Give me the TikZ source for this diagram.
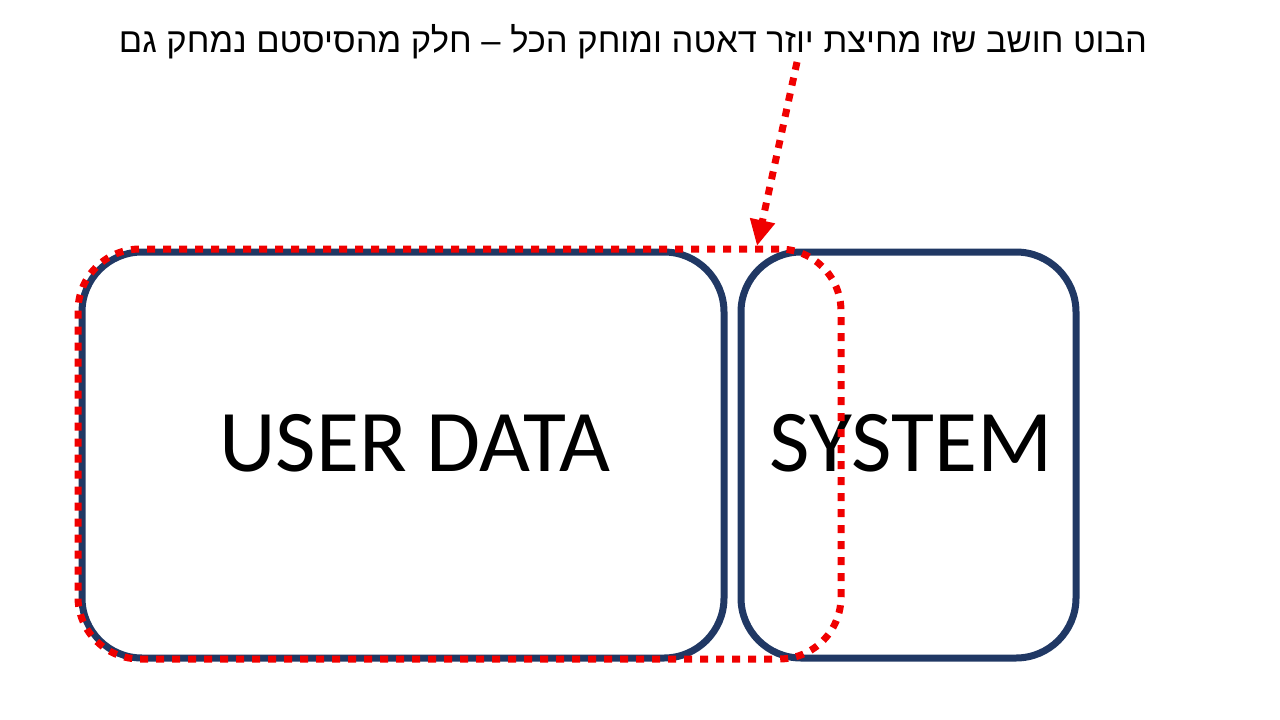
\documentclass[tikz,border=0pt]{standalone}
\usepackage{fontspec}
\usetikzlibrary{arrows.meta}
\TeXXeTstate=1
\newfontfamily\hebfont[Script=Hebrew]{Liberation Sans}
\newfontfamily\boxfont{Carlito}
\definecolor{navy}{HTML}{203864}
\definecolor{redline}{RGB}{240,0,0}
\tikzset{
  boxframe/.style={draw=navy, line width=7pt, rounded corners=60pt, inner sep=0pt},
  boxlabel/.style={font=\boxfont\fontsize{88}{94}\selectfont, inner sep=0pt, text=black},
  redsel/.style={draw=redline, line width=7pt, dash pattern=on 8pt off 8pt, rounded corners=62pt, inner sep=0pt},
  redarrow/.style={draw=redline, line width=7pt, dash pattern=on 8pt off 8pt, -{Triangle[length=26pt,width=24pt]}},
  titletext/.style={font=\hebfont\fontsize{34.5}{38}\selectfont, inner sep=0pt, text=black}
}
\begin{document}
\begin{tikzpicture}[x=1pt,y=-1pt]
\useasboundingbox (0,0) rectangle (1280,720);
\node[titletext] (title) at (633,42) {\beginR הבוט חושב שזו מחיצת יוזר דאטה ומוחק הכל – חלק מהסיסטם נמחק גם\endR};
\node[boxframe, minimum width=642pt, minimum height=406pt] (user) at (403,455) {};
\node[boxframe, minimum width=335pt, minimum height=406pt] (system) at (908.5,455) {};
\node[boxlabel] (userlbl) at (415,443) {USER DATA};
\node[boxlabel] (syslbl) at (911,443) {SYSTEM};
\node[redsel, minimum width=763pt, minimum height=410pt] (sel) at (459.5,454) {};
\coordinate (arrstart) at (797,62);
\coordinate (arrtip) at (757,246);
\draw[redarrow] (arrstart) -- (arrtip);
\end{tikzpicture}
\end{document}
